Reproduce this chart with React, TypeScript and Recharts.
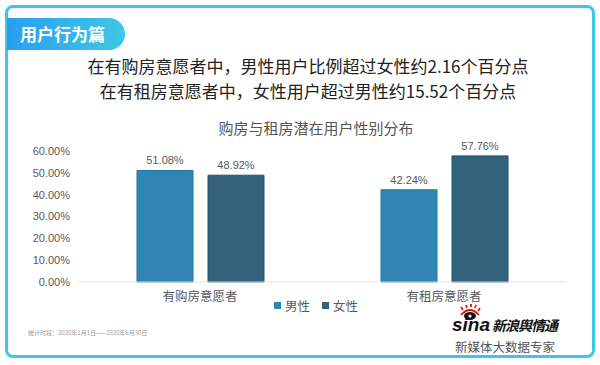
import { BarChart, Bar, XAxis, YAxis, CartesianGrid, Legend, LabelList } from 'recharts'

const categories = ['有购房意愿者', '有租房意愿者']
const maleValues = [51.08, 42.24]
const femaleValues = [48.92, 57.76]
const yTicks = [0, 10, 20, 30, 40, 50, 60]

const MALE_COLOR = '#2f86b2'
const FEMALE_COLOR = '#33637b'
const CJK = '"Noto Sans CJK SC", "Noto Sans", sans-serif'
const LATIN = '"Liberation Sans", Arial, sans-serif'

const data = categories.map((name, i) => ({ name, male: maleValues[i], female: femaleValues[i] }))

const pct = (v: any) => (typeof v === 'number' ? v.toFixed(2) + '%' : '')

function LegendContent() {
  const items = [
    { label: '男性', color: MALE_COLOR },
    { label: '女性', color: FEMALE_COLOR },
  ]
  return (
    <div style={{ display: 'flex', justifyContent: 'center', gap: 12, fontFamily: CJK, fontSize: 12.5, color: '#595959' }}>
      {items.map((it) => (
        <span key={it.label} style={{ display: 'flex', alignItems: 'center', gap: 4 }}>
          <span style={{ width: 7, height: 7, background: it.color, display: 'inline-block' }} />
          {it.label}
        </span>
      ))}
    </div>
  )
}

function SinaLogo() {
  return (
    <svg width={120} height={30} style={{ position: 'absolute', left: 448, top: 304 }}>
      <g fill="none" stroke="#d81e06" strokeWidth={1.8}>
        <path d="M13 11 q9 -10 18 0" />
        <path d="M15 6 l-2 -3 M19 4 l-1 -3 M23 3 l0 -3 M27 4 l1 -3 M30 7 l2 -3" />
      </g>
      <ellipse cx={22} cy={12} rx={6} ry={4} fill="#111" />
      <circle cx={22} cy={12} r={1.6} fill="#fff" />
      <text x={4} y={27} fontFamily={LATIN} fontSize={19} fontWeight={700} fontStyle="italic" fill="#111">sina</text>
      <text x={44} y={27} fontFamily={CJK} fontSize={14} fontWeight={700} fontStyle="italic" fill="#111" letterSpacing={-1}>新浪舆情通</text>
    </svg>
  )
}

export default function App() {
  return (
    <div style={{ position: 'absolute', left: 0, top: 0, width: 600, height: 365, background: '#fff', overflow: 'hidden' }}>
      <div style={{ position: 'absolute', left: 5, top: 5, width: 590, height: 353, boxSizing: 'border-box', border: '3px solid #3ec6e6', borderRadius: 8 }} />
      <div
        style={{
          position: 'absolute', left: 7, top: 18, width: 118, height: 32,
          borderRadius: '0 16px 16px 0',
          background: 'linear-gradient(90deg, #2a9ef2, #3ec8e4)',
          color: '#fff', fontFamily: CJK, fontWeight: 700, fontSize: 17,
          lineHeight: '32px', paddingLeft: 13, boxSizing: 'border-box',
        }}
      >
        用户行为篇
      </div>
      <div style={{ position: 'absolute', left: 0, top: 54, width: 616, textAlign: 'center', fontFamily: CJK, fontSize: 17, lineHeight: '24px', color: '#222' }}>
        在有购房意愿者中，男性用户比例超过女性约2.16个百分点
      </div>
      <div style={{ position: 'absolute', left: 0, top: 79, width: 616, textAlign: 'center', fontFamily: CJK, fontSize: 17, lineHeight: '24px', color: '#222' }}>
        在有租房意愿者中，女性用户超过男性约15.52个百分点
      </div>
      <div style={{ position: 'absolute', left: 0, top: 118, width: 632, textAlign: 'center', fontFamily: CJK, fontSize: 15, lineHeight: '20px', color: '#555' }}>
        购房与租房潜在用户性别分布
      </div>

      <div style={{ position: 'absolute', left: 0, top: 0 }}>
        <BarChart
          width={600}
          height={365}
          data={data}
          margin={{ top: 151, right: 34, bottom: 34, left: 0 }}
          barGap={15}
          barCategoryGap={59}
        >
          <CartesianGrid vertical={false} horizontal={false} />
          <XAxis
            dataKey="name"
            height={30}
            tickLine={false}
            axisLine={{ stroke: '#e3e3e3' }}
            tick={{ fontSize: 12.5, fill: '#595959', fontFamily: CJK }}
            tickMargin={4}
          />
          <YAxis
            width={78}
            domain={[0, 60]}
            ticks={yTicks}
            axisLine={false}
            tickLine={false}
            tick={{ fontSize: 11, fill: '#595959', fontFamily: LATIN }}
            tickFormatter={(v: number) => v.toFixed(2) + '%'}
          />
          <Legend
            content={<LegendContent />}
            wrapperStyle={{ position: 'absolute', top: 296, left: 0, width: 632, bottom: 'auto' }}
          />
          <Bar dataKey="male" name="男性" fill={MALE_COLOR} stroke="#2574a0" strokeWidth={1} isAnimationActive={false}>
            <LabelList dataKey="male" position="top" offset={6} formatter={pct} style={{ fontSize: 11, fill: '#595959', fontFamily: LATIN }} />
          </Bar>
          <Bar dataKey="female" name="女性" fill={FEMALE_COLOR} stroke="#28516a" strokeWidth={1} isAnimationActive={false}>
            <LabelList dataKey="female" position="top" offset={6} formatter={pct} style={{ fontSize: 11, fill: '#595959', fontFamily: LATIN }} />
          </Bar>
        </BarChart>
      </div>

      <svg width={200} height={12} style={{ position: 'absolute', left: 28, top: 327 }}>
        <text x={0} y={8} fontFamily={CJK} fontSize={6} fill="#999">统计时段：2020年1月1日——2020年6月30日</text>
      </svg>
      <SinaLogo />
      <div style={{ position: 'absolute', left: 455, top: 338, width: 100, textAlign: 'center', fontFamily: CJK, fontSize: 12.5, lineHeight: '18px', color: '#555' }}>
        新媒体大数据专家
      </div>
    </div>
  )
}
